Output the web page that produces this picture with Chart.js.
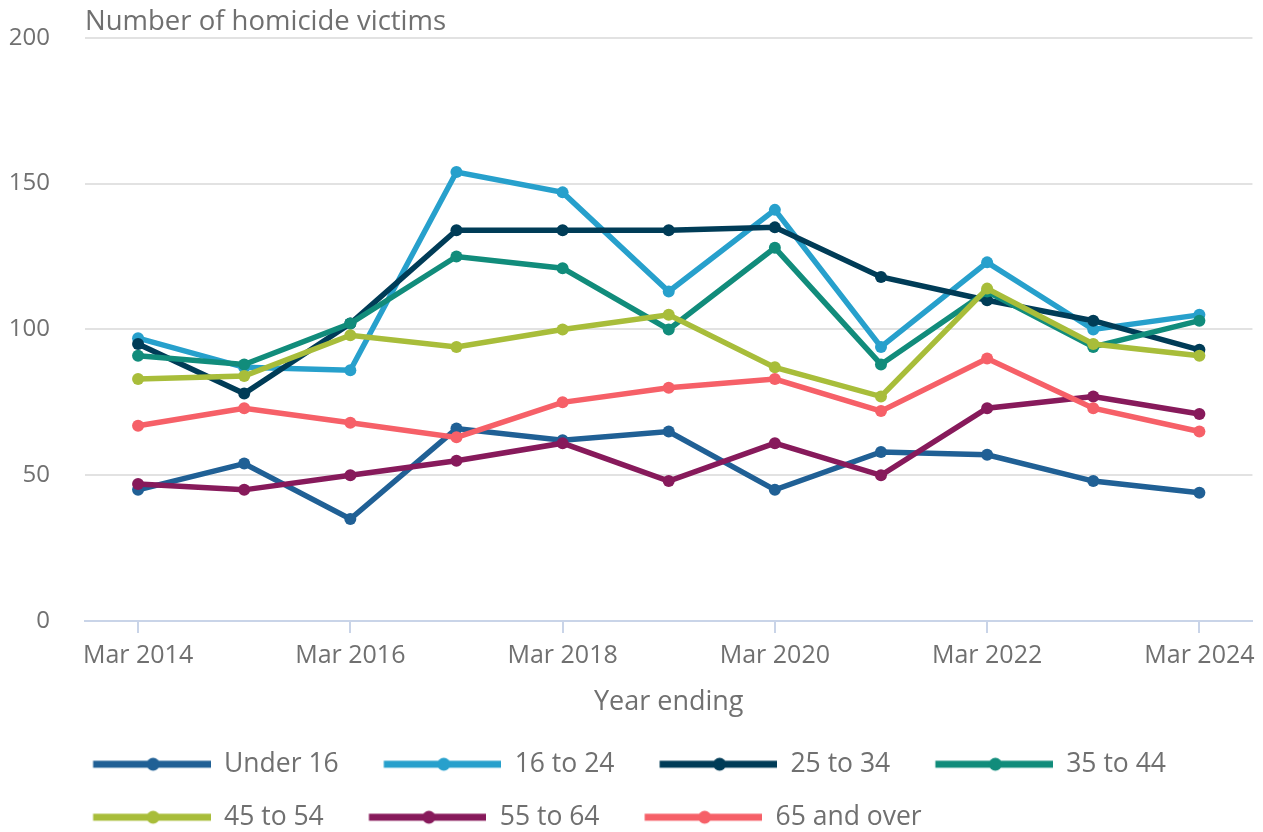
<!DOCTYPE html>
<html>
<head>
<meta charset="utf-8">
<script src="https://cdn.jsdelivr.net/npm/chart.js@4.4.1/dist/chart.umd.min.js"></script>
<style>
  html, body { margin: 0; padding: 0; background: #ffffff; }
  #wrap { width: 1263px; height: 832px; }
</style>
</head>
<body>
<div id="wrap"><canvas id="c" width="1263" height="832"></canvas></div>
<script>
const categories = ['Mar 2014','Mar 2015','Mar 2016','Mar 2017','Mar 2018','Mar 2019','Mar 2020','Mar 2021','Mar 2022','Mar 2023','Mar 2024'];
const seriesNames = ['Under 16','16 to 24','25 to 34','35 to 44','45 to 54','55 to 64','65 and over'];
const under16   = [45, 54, 35, 66, 62, 65, 45, 58, 57, 48, 44];
const age16to24 = [97, 87, 86, 154, 147, 113, 141, 94, 123, 100, 105];
const age25to34 = [95, 78, 102, 134, 134, 134, 135, 118, 110, 103, 93];
const age35to44 = [91, 88, 102, 125, 121, 100, 128, 88, 113, 94, 103];
const age45to54 = [83, 84, 98, 94, 100, 105, 87, 77, 114, 95, 91];
const age55to64 = [47, 45, 50, 55, 61, 48, 61, 50, 73, 77, 71];
const age65plus = [67, 73, 68, 63, 75, 80, 83, 72, 90, 73, 65];
const yTicks = [0, 50, 100, 150, 200];
const colors = ['#206095','#27a0cc','#003c57','#118c7b','#a8bd3a','#871a5b','#f66068'];
const seriesValues = [under16, age16to24, age25to34, age35to44, age45to54, age55to64, age65plus];

const FONT = "'Open Sans', 'Noto Sans', sans-serif";
const TEXT = '#707070';
const AXIS = '#c9d4e8';
const GRID = '#e2e2e2';

const LEG_F = 26.5, LEG_P = 53 - LEG_F, LEG_M = 45 - LEG_P, LEG_LINE = 120;
const LEG_BOX = 131 + LEG_M - LEG_F / 2;
const LEG_LEFT = 48;

function legendImage(color) {
  const cv = document.createElement('canvas');
  cv.width = Math.round(LEG_BOX); cv.height = 16;
  const g = cv.getContext('2d');
  g.strokeStyle = color; g.lineWidth = 7;
  g.beginPath(); g.moveTo(LEG_M, 8); g.lineTo(LEG_M + LEG_LINE, 8); g.stroke();
  g.fillStyle = color;
  g.beginPath(); g.arc(LEG_M + LEG_LINE / 2, 8, 6.5, 0, Math.PI * 2); g.fill();
  return cv;
}

const shiftLegend = {
  id: 'shiftLegend',
  beforeDraw(chart) {
    if (chart.legend) { chart.legend.left = LEG_LEFT; }
  }
};

const datasets = seriesNames.map((name, i) => ({
  label: name,
  data: seriesValues[i],
  borderColor: colors[i],
  backgroundColor: colors[i],
  pointBackgroundColor: colors[i],
  pointBorderWidth: 0,
  pointRadius: 6,
  borderWidth: 5.5,
  tension: 0,
  fill: false,
  order: seriesNames.length - i
}));

new Chart(document.getElementById('c'), {
  type: 'line',
  data: { labels: categories, datasets },
  plugins: [shiftLegend],
  options: {
    responsive: false,
    devicePixelRatio: 1,
    animation: false,
    layout: { padding: { left: 0, right: 10, top: 0, bottom: -8.5 } },
    plugins: {
      title: {
        display: true,
        text: 'Number of homicide victims',
        align: 'start',
        fullSize: false,
        color: TEXT,
        font: { family: FONT, size: 27.5, weight: 'normal' },
        padding: { top: 5.5, bottom: -0.7 }
      },
      legend: {
        position: 'bottom',
        align: 'start',
        labels: {
          usePointStyle: true,
          pointStyleWidth: LEG_BOX,
          padding: LEG_P,
          color: TEXT,
          font: { family: FONT, size: LEG_F },
          generateLabels: (chart) => chart.data.datasets.map((ds, i) => ({
            text: ds.label,
            pointStyle: legendImage(ds.borderColor),
            fillStyle: ds.borderColor,
            strokeStyle: ds.borderColor,
            lineWidth: 0,
            hidden: false,
            datasetIndex: i,
            fontColor: TEXT
          }))
        }
      },
      tooltip: { enabled: false }
    },
    scales: {
      x: {
        type: 'category',
        offset: true,
        grid: {
          display: true,
          drawOnChartArea: false,
          drawTicks: true,
          tickLength: 12,
          color: AXIS,
          lineWidth: 2,
          offset: false
        },
        border: { display: true, color: AXIS, width: 2 },
        ticks: {
          autoSkip: false,
          maxRotation: 0,
          padding: 8,
          color: TEXT,
          font: { family: FONT, size: 25 },
          callback: function(value, index) { return index % 2 === 0 ? categories[index] : null; }
        },
        title: {
          display: true,
          text: 'Year ending',
          color: TEXT,
          font: { family: FONT, size: 27 },
          padding: { top: 7, bottom: 6 }
        }
      },
      y: {
        min: 0,
        max: 200,
        afterFit: (s) => { s.width = 85; },
        afterBuildTicks: (s) => { s.ticks = yTicks.map(v => ({ value: v })); },
        grid: {
          drawTicks: true,
          tickLength: 35,
          tickColor: 'rgba(0,0,0,0)',
          lineWidth: 2,
          color: (ctx) => (ctx.tick && ctx.tick.value === 0) ? 'rgba(0,0,0,0)' : GRID
        },
        border: { display: false },
        ticks: {
          padding: 0,
          color: TEXT,
          font: { family: FONT, size: 24 }
        }
      }
    }
  }
});
</script>
</body>
</html>
